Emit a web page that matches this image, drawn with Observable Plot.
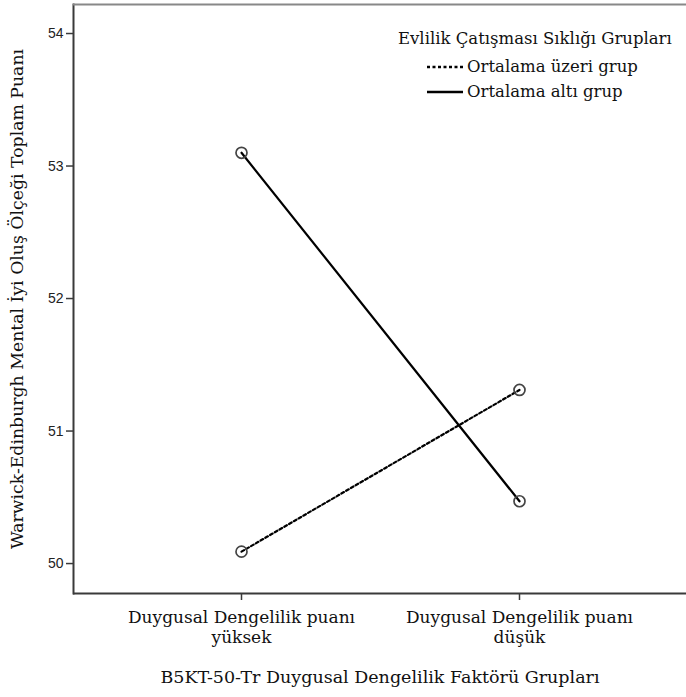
<!DOCTYPE html>
<html>
<head>
<meta charset="utf-8">
<script src="https://cdn.jsdelivr.net/npm/d3@7"></script>
<script src="https://cdn.jsdelivr.net/npm/@observablehq/plot@0.6"></script>
<style>
  html, body { margin: 0; padding: 0; background: #fff; }
  #wrap { position: relative; width: 686px; height: 697px; }
  #legend { position: absolute; left: 398px; top: 26px; font-family: "DejaVu Serif", serif; font-size: 16.5px; color: #111; }
  #legend .title { white-space: nowrap; height: 28px; line-height: 26px; }
  #legend .row { display: flex; align-items: center; height: 25px; margin-left: 29px; white-space: nowrap; }
  #legend svg { margin-right: 4px; }
</style>
</head>
<body>
<div id="wrap">
  <div id="chart"></div>
  <div id="legend"></div>
</div>
<script>
const categories = ["Duygusal Dengelilik puanı yüksek", "Duygusal Dengelilik puanı düşük"];
const tickLabels = ["Duygusal Dengelilik puanı\nyüksek", "Duygusal Dengelilik puanı\ndüşük"];
const groups = ["Ortalama üzeri grup", "Ortalama altı grup"];
const aboveValues = [50.09, 51.31];
const belowValues = [53.10, 50.47];
const yTicks = [50, 51, 52, 53, 54];
const yDomain = [49.774, 54.219];
const legendTitle = "Evlilik Çatışması Sıklığı Grupları";
const xTitle = "B5KT-50-Tr Duygusal Dengelilik Faktörü Grupları";
const yTitle = "Warwick-Edinburgh Mental İyi Oluş Ölçeği Toplam Puanı";

const rows = [];
categories.forEach((c, i) => {
  rows.push({cat: c, group: groups[0], value: aboveValues[i]});
  rows.push({cat: c, group: groups[1], value: belowValues[i]});
});

const serif = "DejaVu Serif, serif";
const frameColor = "#3a3a3a";

const chart = Plot.plot({
  width: 686,
  height: 697,
  marginLeft: 73,
  marginRight: 0,
  marginTop: 4,
  marginBottom: 104,
  style: {background: "#fff"},
  x: {type: "point", domain: categories, padding: 0.6, axis: null},
  y: {domain: yDomain, axis: null},
  marks: [
    Plot.axisY({ticks: yTicks, tickSize: 7, tickPadding: 3, tickFormat: d => String(d), label: null,
      fontFamily: "Liberation Sans, Arial, sans-serif", fontSize: 14, stroke: frameColor, strokeWidth: 1.5, color: "#222"}),
    Plot.axisX({tickSize: 7, tickPadding: 8, tickFormat: d => tickLabels[categories.indexOf(d)], label: null,
      fontFamily: serif, fontSize: 17, lineHeight: 1.18, stroke: frameColor, strokeWidth: 1.5, color: "#111"}),
    Plot.frame({anchor: "left", stroke: frameColor, strokeWidth: 2}),
    Plot.ruleY([yDomain[0]], {stroke: frameColor, strokeWidth: 2}),
    Plot.ruleY([yDomain[1]], {stroke: "#888", strokeWidth: 2}),
    Plot.line(rows.filter(d => d.group === groups[0]), {x: "cat", y: "value", stroke: "#000", strokeWidth: 2.2, strokeDasharray: "3,2.5"}),
    Plot.line(rows.filter(d => d.group === groups[1]), {x: "cat", y: "value", stroke: "#000", strokeWidth: 2.2}),
    Plot.dot(rows, {x: "cat", y: "value", r: 5.5, stroke: "#444", strokeWidth: 1.7, fill: "#fff", fillOpacity: 0}),
    Plot.text([yTitle], {frameAnchor: "left", textAnchor: "middle", rotate: -90, dx: -56, fontFamily: serif, fontSize: 17.3, fill: "#111"}),
    Plot.text([xTitle], {frameAnchor: "bottom", dy: 89, fontFamily: serif, fontSize: 17.5, fill: "#111"})
  ]
});
document.getElementById("chart").appendChild(chart);

const legend = document.getElementById("legend");
const t = document.createElement("div");
t.className = "title";
t.textContent = legendTitle;
legend.appendChild(t);
const dashes = ["3,2.5", null];
groups.forEach((g, i) => {
  const row = document.createElement("div");
  row.className = "row";
  const svg = d3.create("svg").attr("width", 36).attr("height", 10);
  svg.append("line").attr("x1", 0).attr("x2", 36).attr("y1", 5).attr("y2", 5)
    .attr("stroke", "#000").attr("stroke-width", 2.5).attr("stroke-dasharray", dashes[i]);
  row.appendChild(svg.node());
  const s = document.createElement("span");
  s.textContent = g;
  row.appendChild(s);
  legend.appendChild(row);
});
</script>
</body>
</html>
